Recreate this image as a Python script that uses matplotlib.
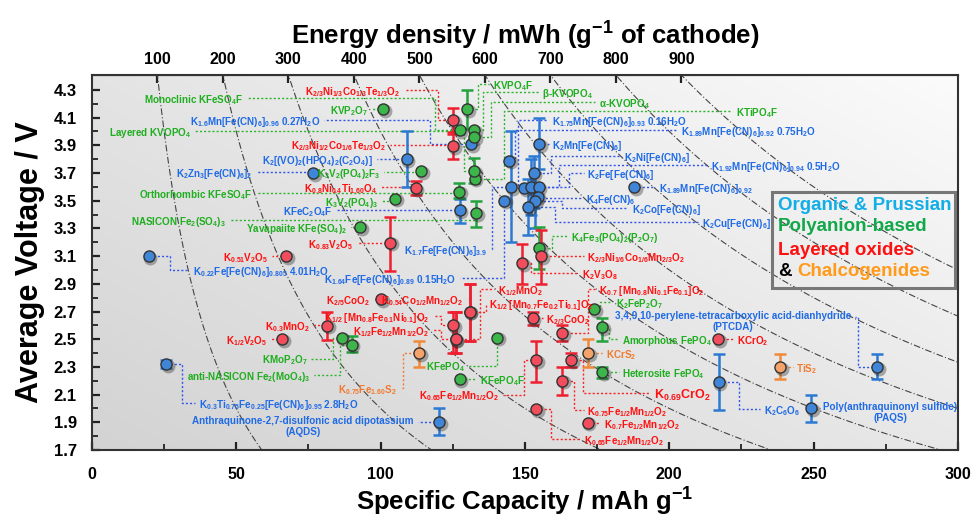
import re
import numpy as np
import matplotlib
matplotlib.use('Agg')
import matplotlib.pyplot as plt
from matplotlib import font_manager
from matplotlib.colors import LinearSegmentedColormap
from matplotlib.patches import Rectangle

plt.rcParams['font.family'] = ['Liberation Sans', 'DejaVu Sans']
plt.rcParams['font.weight'] = 'bold'
plt.rcParams['mathtext.fontset'] = 'custom'
plt.rcParams['mathtext.rm'] = 'Liberation Sans:bold'
plt.rcParams['mathtext.it'] = 'Liberation Sans:bold'
plt.rcParams['mathtext.bf'] = 'Liberation Sans:bold'
plt.rcParams['mathtext.default'] = 'rm'

# ---------------- data ----------------
# Organic & Prussian
org_names = ['K_{2}Zn_{3}[Fe(CN)_{6}]_{2}',
             'K_{0.22}Fe[Fe(CN)_{6}]_{0.805} 4.01H_{2}O',
             'K_{0.3}Ti_{0.75}Fe_{0.25}[Fe(CN)_{6}]_{0.95} 2.8H_{2}O',
             'Anthraquinone-2,7-disulfonic acid dipotassium\n(AQDS)',
             'K_{1.6}Mn[Fe(CN)_{6}]_{0.96} 0.27H_{2}O',
             'K_{2}[(VO)_{2}(HPO_{4})_{2}(C_{2}O_{4})]',
             'KFeC_{2}O_{4}F',
             'K_{1.64}Fe[Fe(CN)_{6}]_{0.89} 0.15H_{2}O',
             'K_{1.7}Fe[Fe(CN)_{6}]_{3.9}',
             'K_{1.75}Mn[Fe(CN)_{6}]_{0.93} 0.16H_{2}O',
             'K_{2}Mn[Fe(CN)_{6}]',
             'K_{2}Ni[Fe(CN)_{6}]',
             'K_{1.89}Mn[Fe(CN)_{6}]_{0.92} 0.75H_{2}O',
             'K_{1.92}Mn[Fe(CN)_{6}]_{0.94} 0.5H_{2}O',
             'K_{2}Fe[Fe(CN)_{6}]',
             'K_{1.89}Mn[Fe(CN)_{6}]_{0.92}',
             'K_{4}Fe(CN)_{6}',
             'K_{2}Co[Fe(CN)_{6}]',
             'K_{2}Cu[Fe(CN)_{6}]',
             'K_{2}C_{6}O_{6}',
             '3,4,9,10-perylene-tetracarboxylic acid-dianhydride\n(PTCDA)',
             'Poly(anthraquinonyl sulfide)\n(PAQS)']
org_cap = [76.7, 19.6, 25.8, 120.2, 131.4, 109.0, 127.4, 142.7, 145.2, 149.6, 155.0,
           153.0, 144.6, 152.1, 154.7, 187.7, 154.4, 153.5, 151.2, 217.1, 272.1, 249.1]
org_volt = [3.70, 3.10, 2.32, 1.90, 3.91, 3.80, 3.43, 3.50, 3.60, 3.59, 3.91,
            3.70, 3.79, 3.60, 3.60, 3.60, 3.53, 3.50, 3.455, 2.19, 2.30, 2.00]
org_err_lo = [0, 0, 0.03, 0.09, 0, 0.2, 0.09, 0, 0.4, 0, 0.18,
              0.25, 0, 0.2, 0, 0, 0, 0.2, 0.2, 0.2, 0.09, 0.1]
org_err_hi = [0, 0, 0.03, 0.10, 0, 0.2, 0.08, 0, 0.4, 0, 0.19,
              0.12, 0, 0.2, 0, 0, 0, 0.2, 0.2, 0.2, 0.09, 0.1]

# Polyanion-based
poly_names = ['KVP_{2}O_{7}', 'KVPO_{4}F', 'β-KVOPO_{4}', 'α-KVOPO_{4}',
              'Monoclinic KFeSO_{4}F', 'KTiPO_{4}F', 'Layered KVOPO_{4}',
              'K_{3}V_{2}(PO_{4})_{2}F_{3}', 'Orthorhombic KFeSO_{4}F',
              'K_{3}V_{2}(PO_{4})_{3}', 'NASICON Fe_{2}(SO_{4})_{3}',
              'Yavapaiite KFe(SO_{4})_{2}', 'K_{4}Fe_{3}(PO_{4})_{2}(P_{2}O_{7})',
              'KMoP_{2}O_{7}', 'anti-NASICON Fe_{2}(MoO_{4})_{3}', 'KFePO_{4}',
              'KFePO_{4}F', 'K_{2}FeP_{2}O_{7}', 'Amorphous FePO_{4}', 'Heterosite FePO_{4}']
poly_cap = [100.9, 130.0, 132.3, 132.3, 127.4, 132.6, 132.3, 114.1, 127.1, 104.9,
            133.1, 92.9, 155.0, 86.5, 90.0, 140.4, 127.4, 174.0, 176.8, 176.8]
poly_volt = [4.16, 4.16, 4.01, 3.96, 4.01, 3.66, 3.715, 3.715, 3.565, 3.516,
             3.41, 3.31, 3.16, 2.51, 2.46, 2.51, 2.21, 2.715, 2.585, 2.26]
poly_err_lo = [0, 0.14, 0, 0, 0, 0, 0.09, 0, 0.045, 0, 0.1, 0, 0.15, 0, 0.05, 0, 0, 0, 0.095, 0.04]
poly_err_hi = [0, 0.14, 0, 0, 0, 0, 0.09, 0, 0.065, 0, 0.09, 0, 0.15, 0, 0.06, 0, 0, 0, 0.065, 0.04]

# Layered oxides
oxide_names = ['K_{2/3}Ni_{1/3}Co_{1/3}Te_{1/3}O_{2}', 'K_{2/3}Ni_{1/2}Co_{1/6}Te_{1/3}O_{2}',
               'K_{0.8}Ni_{0.4}Ti_{1.60}O_{4}', 'K_{0.83}V_{2}O_{5}', 'K_{0.51}V_{2}O_{5}',
               'K_{2/3}Ni_{1/6}Co_{1/6}Mn_{2/3}O_{2}', 'K_{2}V_{3}O_{8}', 'K_{2/5}CoO_{2}',
               'K_{0.54}Co_{1/2}Mn_{1/2}O_{2}', 'K_{1/2}MnO_{2}',
               'K_{1/2} [Mn_{0.7}Fe_{0.2}Ti_{0.1}]O_{2}', 'K_{1/2} [Mn_{0.8}Fe_{0.1}Ni_{0.1}]O_{2}',
               'K_{1/2}Fe_{1/2}Mn_{1/2}O_{2}', 'K_{2/3}CoO_{2}',
               'K_{0.7} [Mn_{0.8}Ni_{0.1}Fe_{0.1}]O_{2}', 'K_{0.65}Fe_{1/2}Mn_{1/2}O_{2}',
               'K_{0.69}CrO_{2}', 'K_{0.75}Fe_{1/2}Mn_{1/2}O_{2}', 'K_{0.65}Fe_{1/2}Mn_{1/2}O_{2}',
               'K_{0.7}Fe_{1/2}Mn_{1/2}O_{2}', 'KCrO_{2}', 'K_{0.3}MnO_{2}', 'K_{1/2}V_{2}O_{5}']
oxide_cap = [125.1, 125.1, 112.1, 103.4, 67.3, 155.6, 148.9, 100.3, 130.8, 126.0,
             130.8, 125.1, 126.0, 152.7, 162.8, 153.9, 165.9, 162.8, 153.9, 171.7, 216.9, 81.4, 66.0]
oxide_volt = [4.08, 3.895, 3.59, 3.196, 3.10, 3.10, 3.05, 2.79, 2.70, 2.50,
              2.70, 2.60, 2.50, 2.65, 2.546, 2.35, 2.35, 2.20, 1.996, 1.897, 2.50, 2.597, 2.50]
oxide_err_lo = [0.1, 0.095, 0.05, 0.2, 0, 0.2, 0.15, 0, 0.21, 0.1, 0.21, 0.2, 0.1, 0.05,
                0.06, 0.16, 0.05, 0.1, 0, 0, 0, 0.1, 0]
oxide_err_hi = [0.09, 0.1, 0.05, 0.19, 0, 0.19, 0.14, 0, 0.2, 0.2, 0.2, 0.1, 0.2, 0.05,
                0.06, 0.14, 0.05, 0.1, 0, 0, 0, 0.1, 0]

# Chalcogenides
chalc_names = ['K_{0.75}Fe_{1.60}S_{2}', 'KCrS_{2}', 'TiS_{2}']
chalc_cap = [113.3, 172.0, 238.4]
chalc_volt = [2.40, 2.40, 2.30]
chalc_err_lo = [0.1, 0.1, 0.09]
chalc_err_hi = [0.09, 0.1, 0.09]

# label layout: (text x, text y, alignment, elbow x)
org_layout = [(55.5, 3.71, 'right', None), (35.0, 3.00, 'left', 27.0), (37.0, 2.04, 'left', 31.3),
              (111.5, 1.90, 'right', None), (79.0, 4.086, 'right', 117.0), (97.3, 3.80, 'right', None),
              (83.2, 3.435, 'right', None), (126.3, 2.94, 'right', 142.7), (137.0, 3.155, 'right', 138.5),
              (159.3, 4.08, 'left', 147.5), (159.5, 3.91, 'left', None), (184.3, 3.82, 'left', 159.0),
              (204.0, 4.01, 'left', 146.5), (214.4, 3.76, 'left', 161.9), (171.6, 3.70, 'left', 165.3),
              (196.4, 3.60, 'left', None), (171.2, 3.52, 'left', None), (187.1, 3.445, 'left', 163.0),
              (211.3, 3.35, 'left', 160.5), (232.7, 1.995, 'left', 224.0), (263.0, 2.66, 'right', 265.4),
              (253.4, 2.00, 'left', None)]
poly_layout = [(95.6, 4.16, 'right', None), (138.8, 4.34, 'left', 133.7), (156.0, 4.285, 'left', 135.4),
               (175.7, 4.21, 'left', 138.3), (52.5, 4.24, 'right', 118.7), (223.0, 4.15, 'left', 142.9),
               (34.2, 4.00, 'right', 129.0), (99.8, 3.705, 'right', None), (55.6, 3.556, 'right', None),
               (99.1, 3.50, 'right', None), (46.3, 3.36, 'right', 133.1), (88.4, 3.31, 'right', None),
               (166.0, 3.245, 'left', 159.5), (74.6, 2.36, 'right', 83.6), (75.6, 2.24, 'right', 86.0),
               (129.1, 2.31, 'right', 140.4), (134.3, 2.21, 'left', None), (181.6, 2.77, 'left', 176.0),
               (183.6, 2.50, 'left', 179.0), (183.7, 2.26, 'left', None)]
oxide_layout = [(106.7, 4.30, 'right', 119.9), (102.0, 3.905, 'right', None), (98.7, 3.60, 'right', None),
                (90.4, 3.196, 'right', None), (61.1, 3.10, 'right', None), (171.6, 3.10, 'left', None),
                (169.8, 2.98, 'left', 152.1), (96.3, 2.79, 'right', None), (128.5, 2.79, 'right', 130.8),
                (140.5, 2.86, 'left', 134.3), (137.7, 2.76, 'left', 136.6), (117.0, 2.667, 'right', 121.0),
                (117.0, 2.566, 'right', 121.0), (157.4, 2.65, 'left', None), (175.7, 2.86, 'left', 171.7),
                (141.2, 2.10, 'right', 149.8), (194.7, 2.11, 'left', 170.0), (171.6, 1.99, 'left', 167.1),
                (170.5, 1.78, 'left', 159.0), (177.4, 1.897, 'left', None), (223.3, 2.50, 'left', None),
                (75.6, 2.60, 'right', None), (60.8, 2.50, 'right', None)]
chalc_layout = [(105.5, 2.145, 'right', 107.8), (178.1, 2.40, 'left', None), (244.0, 2.30, 'left', None)]

energy_levels = [100, 200, 300, 400, 500, 600, 700, 800, 900]

groups = [
    (org_names, org_cap, org_volt, org_err_lo, org_err_hi, org_layout,
     '#1f6ae6', '#3f86d8', '#2b79d3', '#2f55ee'),
    (poly_names, poly_cap, poly_volt, poly_err_lo, poly_err_hi, poly_layout,
     '#1fae1f', '#3cb54a', '#24a23e', '#2cb52c'),
    (oxide_names, oxide_cap, oxide_volt, oxide_err_lo, oxide_err_hi, oxide_layout,
     '#ff1010', '#f24d5c', '#ee2030', '#ff2020'),
    (chalc_names, chalc_cap, chalc_volt, chalc_err_lo, chalc_err_hi, chalc_layout,
     '#f07a30', '#f5a36a', '#ef8a3a', '#f07a30'),
]


def sub(s):
    return re.sub(r'_\{([^}]*)\}', r'$_{\1}$', s)


fig = plt.figure(figsize=(9.71, 5.23), dpi=100)
ax = fig.add_axes([0.0947, 0.1396, 0.8919, 0.717])
ytop = 4.408
ax.set_xlim(0, 300)
ax.set_ylim(1.7, ytop)

# gradient background
gx, gy = np.meshgrid(np.linspace(0, 1, 200), np.linspace(0, 1, 200))
grad = 0.55 * gx + 0.45 * gy
cmap = LinearSegmentedColormap.from_list('bg', ['#d3d3d3', '#e6e6e6', '#fbfbfb'])
ax.imshow(grad, extent=[0, 300, 1.7, ytop], origin='lower', aspect='auto', cmap=cmap, zorder=0)

# iso-energy curves
cc = np.linspace(1, 300, 400)
for e in energy_levels:
    ax.plot(cc, e / cc, color='#444444', lw=0.8, ls=(0, (6, 2, 1, 2)), zorder=1)

for names, cap, volt, elo, ehi, layout, tcol, pcol, ecol, lcol in groups:
    for i, name in enumerate(names):
        px, py = cap[i], volt[i]
        tx, ty, ha, ex = layout[i]
        gap = 1.3
        endx = tx + gap if ha == 'right' else tx - gap
        if ex is None:
            ex = px
        ax.plot([px, ex, ex, endx], [py, py, ty, ty], color=lcol, lw=1.0,
                ls=(0, (1.5, 1.5)), zorder=2)
        if elo[i] > 0 or ehi[i] > 0:
            ax.errorbar(px, py, yerr=[[elo[i]], [ehi[i]]], fmt='none', ecolor=ecol,
                        elinewidth=1.8, capsize=4, capthick=1.8, zorder=3)
        ax.plot(px + 0.6, py - 0.012, 'o', ms=10, color='#222222', alpha=0.35, mec='none', zorder=3.5)
        ax.plot(px, py, 'o', ms=8, mfc=pcol, mec='#333333', mew=1.0, zorder=4)
        fs = 9 if 'CrO_{2}' in name and '0.69' in name else 7.1
        if '\n' in name:
            ax.text(tx, ty + 0.045, sub(name), color=tcol, fontsize=fs, fontweight='bold', ha=ha,
                    va='top', multialignment='center', linespacing=1.1, zorder=5)
        else:
            ax.text(tx, ty, sub(name), color=tcol, fontsize=fs, fontweight='bold', ha=ha,
                    va='center_baseline', zorder=5)

# axes styling
for sp in ax.spines.values():
    sp.set_color('#333333')
    sp.set_linewidth(1.5)
    sp.set_zorder(6)
ax.set_xticks(np.arange(0, 301, 50))
ax.set_xticks(np.arange(0, 301, 25), minor=True)
ax.set_yticks(np.arange(1.7, 4.31, 0.2))
ax.set_yticks(np.arange(1.7, 4.35, 0.1), minor=True)
ax.set_yticklabels(['%.1f' % v for v in np.arange(1.7, 4.31, 0.2)])
ax.tick_params(which='major', direction='in', length=6, width=1.6, colors='#222222',
               labelsize=12, top=False, right=False)
ax.tick_params(which='minor', direction='in', length=4, width=1.3, colors='#222222', top=False, right=False)
ax.tick_params(axis='x', pad=12, labelsize=11.5)
ax.tick_params(axis='y', pad=11)
for lab in ax.get_xticklabels() + ax.get_yticklabels():
    lab.set_fontweight('bold')
    lab.set_color('black')
ax.set_xlabel('Specific Capacity / mAh g$^{-1}$', fontsize=18.5, fontweight='bold', labelpad=3)

# y label: narrower face if available, drawn longer like the reference
installed = {f.name for f in font_manager.fontManager.ttflist}
if 'Liberation Sans Narrow' in installed:
    ax.set_ylabel('Average Voltage / V', fontsize=24, fontweight='bold', labelpad=8,
                  family=['Liberation Sans Narrow', 'Liberation Sans'])
else:
    ax.set_ylabel('Average Voltage / V', fontsize=22, fontweight='bold', labelpad=6)

sec = ax.secondary_xaxis('top', functions=(lambda c: c * ytop, lambda e: e / ytop))
sec.set_xticks(energy_levels)
sec.tick_params(direction='in', length=6, width=1.6, colors='#222222', labelsize=11.5, pad=6)
for lab in sec.get_xticklabels():
    lab.set_fontweight('bold')
    lab.set_color('black')
sec.set_xlabel('Energy density / mWh (g$^{-1}$ of cathode)', fontsize=18.5, fontweight='bold', labelpad=5)

# category legend box
ax.add_patch(Rectangle((0.785, 0.432), 0.2115, 0.256, transform=ax.transAxes, fill=False,
                       ec='#777777', lw=2.2, zorder=6))
ax.text(0.792, 0.653, 'Organic & Prussian', transform=ax.transAxes, color='#12aee8',
        fontsize=13.5, fontweight='bold', va='center', zorder=7)
ax.text(0.792, 0.595, 'Polyanion-based', transform=ax.transAxes, color='#12a84a',
        fontsize=13.5, fontweight='bold', va='center', zorder=7)
ax.text(0.792, 0.533, 'Layered oxides', transform=ax.transAxes, color='#ff1010',
        fontsize=13.5, fontweight='bold', va='center', zorder=7)
ax.text(0.792, 0.475, '&', transform=ax.transAxes, color='black',
        fontsize=13.5, fontweight='bold', va='center', zorder=7)
ax.text(0.814, 0.475, 'Chalcogenides', transform=ax.transAxes, color='#ff9a1a',
        fontsize=13.5, fontweight='bold', va='center', zorder=7)

fig.savefig('out.png', dpi=100)
